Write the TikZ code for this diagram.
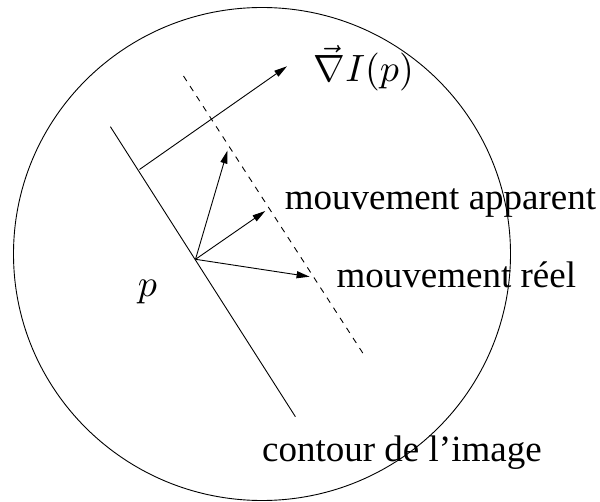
\documentclass[tikz,border=0pt]{standalone}
\usepackage{fontspec}
\setmainfont{Liberation Serif}
\usetikzlibrary{arrows.meta}
\begin{document}
\begin{tikzpicture}[x=1pt,y=-1pt,
  ln/.style={line width=0.9pt},
  arr/.style={ln,-{Triangle[length=13pt,width=7pt]}},
  lbl/.style={inner sep=0pt,anchor=base west,font=\fontsize{37}{44}\selectfont},
  mlbl/.style={inner sep=0pt,anchor=base west,font=\fontsize{10}{12}\selectfont,scale=3.8}]
\useasboundingbox (0,0) rectangle (600,502);
\draw[ln] (262,254) ellipse [x radius=248.5, y radius=246.5];
% contour
\coordinate (c1) at (110.4,126.7);
\coordinate (c2) at (295.4,416.7);
\draw[ln] (c1) -- (c2);
% dashed line
\coordinate (d1) at (183.5,76);
\coordinate (d2) at (366,358);
\draw[ln,dash pattern=on 6pt off 6pt] (d1) -- (d2);
% gradient
\coordinate (g0) at (139.5,169.5);
\coordinate (g1) at (287,66.3);
\draw[arr] (g0) -- (g1);
% point p and motions
\coordinate (p) at (195.5,259.3);
\coordinate (a1) at (227.5,150.5);
\coordinate (a2) at (265.3,211);
\coordinate (a3) at (309.6,276.7);
\draw[arr] (p) -- (a1);
\draw[arr] (p) -- (a2);
\draw[arr] (p) -- (a3);
% labels
\node[mlbl] (grad) at (313,82) {$\vec{\nabla} I(p)$};
\node[lbl] (app) at (284.6,209.3) {mouvement apparent};
\node[lbl] (reel) at (336.5,287.3) {mouvement réel};
\node[lbl] (cont) at (262,461) {contour de l’image};
\node[mlbl] (plbl) at (137,297) {$p$};
\end{tikzpicture}
\end{document}
